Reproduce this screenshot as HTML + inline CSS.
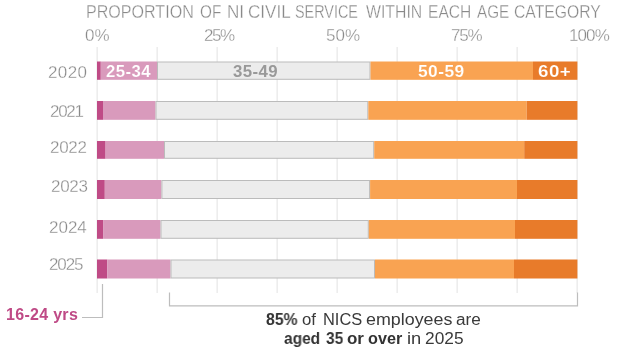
<!DOCTYPE html>
<html><head><meta charset="utf-8">
<style>
html,body{margin:0;padding:0;background:#fff;}
body{width:620px;height:354px;position:relative;overflow:hidden;font-family:"Liberation Sans",sans-serif;}
.t{position:absolute;white-space:nowrap;line-height:1;will-change:transform;}
#title{left:0;top:3px;width:620px;height:20px;font-size:18px;color:#8a8a8a;-webkit-text-stroke:0.3px #fff;}
.tw{position:absolute;top:0;transform-origin:0 0;}
.ax{top:27px;font-size:17px;color:#8a8a8a;-webkit-text-stroke:0.3px #fff;}
.yr{left:49px;font-size:17px;color:#8a8a8a;-webkit-text-stroke:0.3px #fff;}
.lbl{font-size:16.5px;font-weight:bold;color:#fff;top:63px;letter-spacing:0.4px;transform-origin:0 0;}
#l16{left:5.8px;top:307px;font-size:16px;font-weight:bold;color:#bf4a86;letter-spacing:0.3px;}
.nw{font-size:16px;color:#3a3a3a;transform-origin:0 0;}
.b{font-weight:bold;color:#333;}
svg{position:absolute;left:0;top:0;}
</style></head><body>
<svg width="620" height="354" viewBox="0 0 620 354">
  <g fill="#e9e9e9">
    <rect x="96.5" y="47" width="1.3" height="246"/>
    <rect x="156.5" y="47" width="1.3" height="246"/>
    <rect x="216.5" y="47" width="1.3" height="246"/>
    <rect x="276.5" y="47" width="1.3" height="246"/>
    <rect x="336.5" y="47" width="1.3" height="246"/>
    <rect x="396.5" y="47" width="1.3" height="246"/>
    <rect x="456.5" y="47" width="1.3" height="246"/>
    <rect x="516.5" y="47" width="1.3" height="246"/>
    <rect x="576.5" y="47" width="1.3" height="246"/>
  </g>
  <!-- bars -->
  <g id="bars">
<rect x="97" y="61.5" width="3.8" height="18.3" fill="#bf4b86"/>
<rect x="100.8" y="61.5" width="56.2" height="18.3" fill="#d99abc"/>
<rect x="157.5" y="62.0" width="212.5" height="17.3" fill="#ececec" stroke="#bbbbbb" stroke-width="1"/>
<rect x="370.5" y="61.5" width="162.5" height="18.3" fill="#f9a352"/>
<rect x="533" y="61.5" width="44.4" height="18.3" fill="#e87b2a"/>
<rect x="97" y="101" width="6.0" height="18.8" fill="#bf4b86"/>
<rect x="103" y="101" width="52.5" height="18.8" fill="#d99abc"/>
<rect x="156.0" y="101.5" width="211.8" height="17.8" fill="#ececec" stroke="#bbbbbb" stroke-width="1"/>
<rect x="368.3" y="101" width="158.4" height="18.8" fill="#f9a352"/>
<rect x="526.7" y="101" width="50.7" height="18.8" fill="#e87b2a"/>
<rect x="97" y="141" width="8.6" height="17.8" fill="#bf4b86"/>
<rect x="105.6" y="141" width="58.4" height="17.8" fill="#d99abc"/>
<rect x="164.5" y="141.5" width="209.2" height="16.8" fill="#ececec" stroke="#bbbbbb" stroke-width="1"/>
<rect x="374.2" y="141" width="150.0" height="17.8" fill="#f9a352"/>
<rect x="524.2" y="141" width="53.2" height="17.8" fill="#e87b2a"/>
<rect x="97" y="180" width="7.8" height="19.0" fill="#bf4b86"/>
<rect x="104.8" y="180" width="56.6" height="19.0" fill="#d99abc"/>
<rect x="161.9" y="180.5" width="207.7" height="18.0" fill="#ececec" stroke="#bbbbbb" stroke-width="1"/>
<rect x="370.1" y="180" width="146.9" height="19.0" fill="#f9a352"/>
<rect x="517" y="180" width="60.4" height="19.0" fill="#e87b2a"/>
<rect x="97" y="220" width="6.1" height="18.8" fill="#bf4b86"/>
<rect x="103.1" y="220" width="57.4" height="18.8" fill="#d99abc"/>
<rect x="161.0" y="220.5" width="207.3" height="17.8" fill="#ececec" stroke="#bbbbbb" stroke-width="1"/>
<rect x="368.8" y="220" width="146.2" height="18.8" fill="#f9a352"/>
<rect x="515" y="220" width="62.4" height="18.8" fill="#e87b2a"/>
<rect x="97" y="259.5" width="10.2" height="19.0" fill="#bf4b86"/>
<rect x="107.2" y="259.5" width="63.3" height="19.0" fill="#d99abc"/>
<rect x="171.0" y="260.0" width="203.5" height="18.0" fill="#ececec" stroke="#bbbbbb" stroke-width="1"/>
<rect x="375" y="259.5" width="139.0" height="19.0" fill="#f9a352"/>
<rect x="514" y="259.5" width="63.4" height="19.0" fill="#e87b2a"/>
</g>
  <!-- bracket -->
  <path d="M169.5 292.5 V305.8 H577.5 V292.5" fill="none" stroke="#bdbdbd" stroke-width="1.2"/>
  <path d="M102.5 284 V317.5 H82" fill="none" stroke="#bdbdbd" stroke-width="1.2"/>
</svg>
<div class="t" id="title"><span class="tw" style="left:85.7px;transform:scaleX(0.893)">PROPORTION</span><span class="tw" style="left:199.9px;transform:scaleX(0.85)">OF</span><span class="tw" style="left:226.7px;transform:scaleX(0.95)">NI</span><span class="tw" style="left:247.9px;transform:scaleX(0.947)">CIVIL</span><span class="tw" style="left:295.1px;transform:scaleX(0.799)">SERVICE</span><span class="tw" style="left:365.9px;transform:scaleX(0.879)">WITHIN</span><span class="tw" style="left:427.8px;transform:scaleX(0.865)">EACH</span><span class="tw" style="left:477.1px;transform:scaleX(0.848)">AGE</span><span class="tw" style="left:514.0px;transform:scaleX(0.873)">CATEGORY</span></div>
<div class="t ax" style="left:85.2px">0%</div>
<div class="t ax" style="left:204px;letter-spacing:-1.5px">25%</div>
<div class="t ax" style="left:325.7px">50%</div>
<div class="t ax" style="left:450.6px;letter-spacing:-1.2px">75%</div>
<div class="t ax" style="left:568.7px;letter-spacing:-0.9px">100%</div>
<div class="t yr" style="top:64px;left:47.6px;letter-spacing:0.4px">2020</div>
<div class="t yr" style="top:103px;left:50.4px;letter-spacing:-1.3px">2021</div>
<div class="t yr" style="top:139px;left:50.2px;letter-spacing:-0.3px">2022</div>
<div class="t yr" style="top:178px;left:50.6px;letter-spacing:-0.3px">2023</div>
<div class="t yr" style="top:219px">2024</div>
<div class="t yr" style="top:256px;left:48.8px;letter-spacing:-1.1px">2025</div>
<div class="t lbl" style="left:106.2px;transform:scaleX(1.016);color:#fff;-webkit-text-stroke:0.15px #d99abc">25-34</div>
<div class="t lbl" style="left:233.3px;transform:scaleX(1.02);color:#999;-webkit-text-stroke:0px #ececec">35-49</div>
<div class="t lbl" style="left:417.6px;transform:scaleX(1.055);color:#fff;-webkit-text-stroke:0.15px #f9a352">50-59</div>
<div class="t lbl" style="left:537.5px;transform:scaleX(1.138);color:#fff;-webkit-text-stroke:0.15px #e87b2a">60+</div>
<div class="t" id="l16">16-24 yrs</div>
<div class="t nw b" style="top:312px;left:266.2px;transform:scaleX(0.984)">85%</div>
<div class="t nw" style="top:312px;left:302.2px;transform:scaleX(1.046)">of</div>
<div class="t nw" style="top:312px;left:322.9px;transform:scaleX(1.027)">NICS</div>
<div class="t nw" style="top:312px;left:366.0px;transform:scaleX(1.116)">employees</div>
<div class="t nw" style="top:312px;left:456.0px;transform:scaleX(1.073)">are</div>
<div class="t nw b" style="top:331px;left:283.9px;transform:scaleX(0.967)">aged</div>
<div class="t nw b" style="top:331px;left:325.8px;transform:scaleX(0.967)">35</div>
<div class="t nw b" style="top:331px;left:346.7px;transform:scaleX(1.060)">or</div>
<div class="t nw b" style="top:331px;left:367.5px;transform:scaleX(1.012)">over</div>
<div class="t nw" style="top:331px;left:406.6px;transform:scaleX(1.145)">in</div>
<div class="t nw" style="top:331px;left:425.0px;transform:scaleX(1.082)">2025</div>
</body></html>
